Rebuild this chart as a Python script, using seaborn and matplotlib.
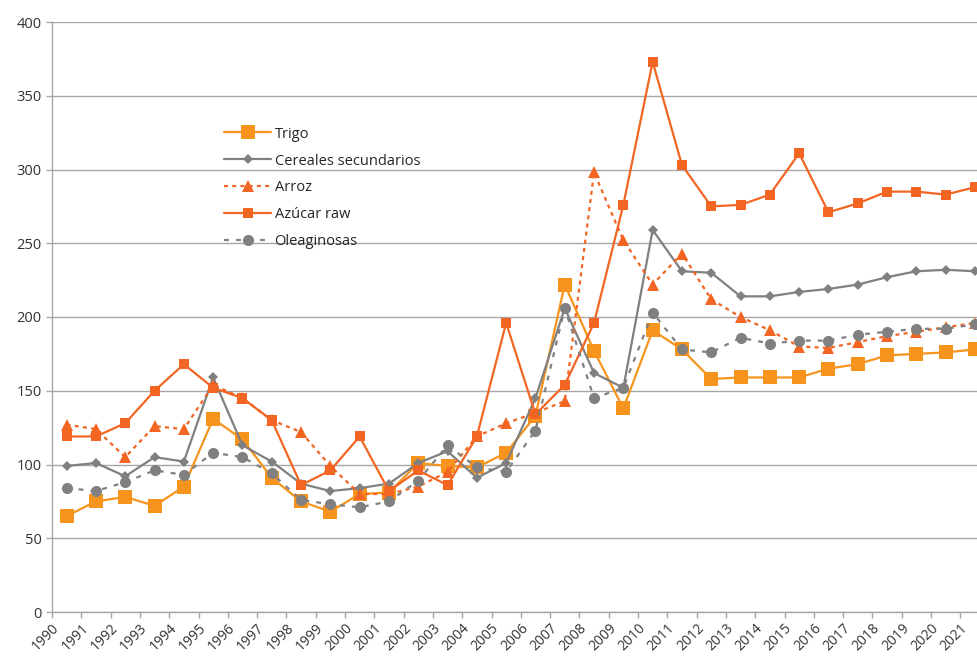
import matplotlib
matplotlib.use('Agg')
import matplotlib.pyplot as plt
import seaborn as sns

# data
years = list(range(1990, 2022))
trigo = [65, 75, 78, 72, 85, 131, 117, 91, 75, 68, 80, 81, 101, 99, 98, 108, 133, 222, 177, 138,
         191, 178, 158, 159, 159, 159, 165, 168, 174, 175, 176, 178]
cereales = [99, 101, 92, 105, 102, 159, 113, 102, 87, 82, 84, 87, 101, 109, 91, 101, 145, 206, 162, 152,
            259, 231, 230, 214, 214, 217, 219, 222, 227, 231, 232, 231]
arroz = [127, 124, 105, 126, 124, 154, 145, 130, 122, 99, 80, 80, 85, 95, 119, 128, 135, 143, 298, 252,
         222, 243, 212, 200, 191, 180, 179, 183, 187, 190, 193, 196]
azucar = [119, 119, 128, 150, 168, 152, 145, 130, 86, 96, 119, 82, 96, 86, 119, 196, 134, 154, 196, 276,
          373, 303, 275, 276, 283, 311, 271, 277, 285, 285, 283, 288]
oleag = [84, 82, 88, 96, 93, 108, 105, 94, 76, 73, 71, 75, 89, 113, 98, 95, 123, 206, 145, 152,
         203, 178, 176, 186, 182, 184, 184, 188, 190, 192, 192, 195]

labels = ['Trigo', 'Cereales secundarios', 'Arroz', 'Azúcar raw', 'Oleaginosas']
series = [trigo, cereales, arroz, azucar, oleag]

light_orange = '#F7941D'
dark_orange = '#F26522'
grey = '#808080'

styles = [
    dict(color=light_orange, marker='s', markersize=9.5, linestyle='-'),
    dict(color=grey, marker='D', markersize=5.5, linestyle='-'),
    dict(color=dark_orange, marker='^', markersize=8.5, linestyle=(0, (1.8, 1.9))),
    dict(color=dark_orange, marker='s', markersize=7.5, linestyle='-'),
    dict(color=grey, marker='o', markersize=8, linestyle=(0, (2.2, 3.2))),
]

sns.set_style('white')
plt.rcParams['font.family'] = ['Open Sans', 'DejaVu Sans']

fig = plt.figure(figsize=(9.77, 6.56), dpi=100)
ax = fig.add_axes([52 / 977, 44 / 656, 925 / 977, 590 / 656])

pos = list(range(len(years)))
for lab, vals, st in zip(labels, series, styles):
    sns.lineplot(x=pos, y=vals, ax=ax, label=lab, linewidth=1.6,
                 markeredgewidth=0, clip_on=False, **st)

ax.set_ylim(0, 400)
ax.set_yticks(range(0, 401, 50))
ax.set_xlim(-0.5, -0.5 + 925 / 29.3)

# category boundaries carry the ticks and the rotated year labels
ax.set_xticks([p - 0.5 for p in pos])
ax.set_xticklabels([str(y) for y in years], rotation=45, ha='right',
                   rotation_mode='anchor', fontsize=10, color='#333333')
for t in ax.get_yticklabels():
    t.set_fontsize(10.5)
    t.set_color('#333333')

ax.yaxis.grid(True, color='#A6A6A6', linewidth=1)
ax.set_axisbelow(True)
ax.tick_params(axis='both', which='major', length=4, width=1, color='#A6A6A6', direction='out',
               left=True, bottom=True)
ax.tick_params(axis='x', pad=2)
for side in ['top', 'right']:
    ax.spines[side].set_visible(False)
for side in ['left', 'bottom']:
    ax.spines[side].set_color('#A6A6A6')
    ax.spines[side].set_linewidth(1)

ax.legend(loc='upper left', bbox_to_anchor=(0.172, 0.845), frameon=False, fontsize=10.5,
          handlelength=3.2, labelspacing=0.82, handletextpad=0.25)

plt.savefig('out.png', dpi=100)
